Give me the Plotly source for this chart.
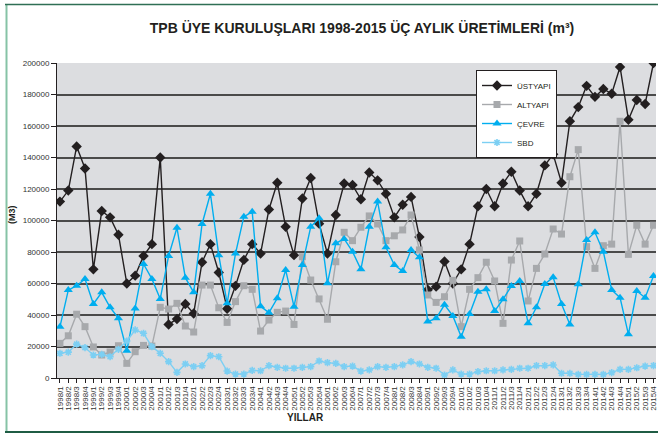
import plotly.graph_objects as go

years = list(range(1998, 2016))
quarters = [f"{y}/{q}" for y in years for q in range(1, 5)]

ustyapi = [112, 119, 147, 133, 69, 106, 102, 91, 60, 65,
           77.5, 85, 140, 34, 37.5, 47, 41, 73.5, 85, 67,
           44, 58.5, 75, 85, 79, 107, 124, 96, 78, 114,
           127, 98, 79, 103.5, 123.5, 122.5, 113.5, 130.5, 125.5, 117,
           102, 110, 115, 89.5, 56, 58, 74, 60, 69, 85,
           109, 120, 109, 123.5, 131, 119, 109, 117, 135, 142,
           124, 163, 172, 185.5, 178.5, 183.5, 180.5, 197.5, 164, 176.5, 174, 200]
altyapi = [22, 26.8, 40.5, 32.6, 19.7, 14.6, 16.5, 20.5, 9.3, 16.7,
           20.7, 20.3, 44.9, 43.8, 47.4, 33, 29.2, 59, 59, 44.6,
           35.3, 48.5, 58.6, 56.3, 29.8, 36.8, 41.7, 42.5, 34, 77,
           62.2, 50.2, 37.3, 73.8, 92.5, 87.2, 95.7, 102.9, 97.8, 87.2,
           90.3, 94, 103.5, 81.3, 52.7, 48, 51.6, 62, 32.6, 56.3,
           63.7, 73.5, 61.6, 34.7, 74.9, 87, 48.9, 69.6, 78.7, 94.6,
           91.4, 127.8, 145, 83.4, 69.6, 84, 85, 163, 78.5, 97, 85, 97]
cevre = [32.5, 55.8, 58.6, 62.9, 47, 54.4, 44.9, 37.9, 17.3, 44.2,
         72.4, 62.9, 50.2, 77.5, 95.4, 63.7, 54.4, 97.8, 117, 78,
         47.4, 79, 102.4, 105.5, 45.5, 41.5, 50.6, 68.6, 45.3, 71.7,
         96, 101.4, 60.1, 85.5, 88.3, 80.2, 69, 96, 112, 83,
         71.7, 67.9, 81.3, 76.6, 35.8, 37.9, 46.5, 39.4, 26.2, 40.6,
         54.8, 56.3, 42.5, 50, 58.4, 61.6, 34.7, 44.9, 59.7, 63.9,
         47, 34, 59.5, 87.6, 92.5, 80.2, 55.9, 51, 27.7, 55.2, 51, 64.8]
sbd = [15.7, 16.4, 21.5, 19.3, 14.6, 15, 13.5, 18.2, 23.5, 30.5,
       28.4, 19.9, 15.7, 10.4, 3.6, 8.9, 7.2, 7.8, 14.2, 13.5,
       4.4, 2.5, 2.5, 4.8, 4.6, 7.8, 6.8, 6.2, 6.2, 6.8,
       7.2, 10.8, 9.7, 9.3, 7.2, 7.6, 4.4, 5.1, 7.2, 6.8,
       7.2, 8.3, 10.4, 8.9, 6.8, 6.2, 1.9, 5.1, 2.5, 2.5,
       4, 4.6, 4.6, 5.1, 5.5, 6.2, 6.2, 7.8, 7.8, 8.3,
       3, 3, 2.3, 2.3, 2.3, 2.3, 3.4, 5.5, 5.5, 6.5, 7.6, 7.8]

series_names = ["ÜSTYAPI", "ALTYAPI", "ÇEVRE", "SBD"]
y_ticks = [0, 20000, 40000, 60000, 80000, 100000, 120000, 140000, 160000, 180000, 200000]

FONT = "Liberation Sans, Arial, sans-serif"

styles = [
    dict(color="#231f20", symbol="diamond", size=8, width=1.4, mline=0),
    dict(color="#a7a9ac", symbol="square", size=7, width=1.4, mline=0),
    dict(color="#00aeef", symbol="triangle-up", size=8, width=1.4, mline=0),
    dict(color="#7ccff3", symbol="asterisk-open", size=6, width=1.4, mline=1.6),
]
data = [ustyapi, altyapi, cevre, sbd]

fig = go.Figure()
for name, vals, st in zip(series_names, data, styles):
    fig.add_trace(go.Scatter(
        x=quarters, y=[v * 1000 for v in vals], name=name, mode="lines+markers",
        line=dict(color=st["color"], width=st["width"]),
        marker=dict(symbol=st["symbol"], size=st["size"], color=st["color"],
                    line=dict(color=st["color"], width=st["mline"])),
    ))

fig.update_layout(
    width=658, height=434,
    margin=dict(l=57, r=2, t=63, b=56),
    paper_bgcolor="white",
    plot_bgcolor="#dcdde0",
    title=dict(text="<b>TPB ÜYE KURULUŞLARI 1998-2015 ÜÇ AYLIK ÜRETİMLERİ (m³)</b>",
               x=362 / 658, xanchor="center", y=1 - 28 / 434, yanchor="middle",
               xref="container", yref="container",
               font=dict(family=FONT, size=14, color="#231f20")),
    showlegend=True,
    legend=dict(x=(476 - 57) / 599, y=(378 - 70) / 315, xanchor="left", yanchor="top",
                bgcolor="white", bordercolor="#231f20", borderwidth=1,
                font=dict(family=FONT, size=8, color="#231f20"),
                itemwidth=30, tracegroupgap=0),
)

fig.update_xaxes(
    type="category", categoryorder="array", categoryarray=quarters,
    tickmode="array", tickvals=quarters, ticktext=quarters,
    range=[-0.35, 71.3], tickangle=-90, automargin=False,
    tickfont=dict(family=FONT, size=8, color="#333333"),
    ticks="outside", ticklen=4, tickcolor="#231f20",
    showline=True, linecolor="#231f20", linewidth=1,
    showgrid=False, zeroline=False,
)
fig.update_yaxes(
    range=[0, 200000], tickmode="array", tickvals=y_ticks,
    ticktext=[str(v) for v in y_ticks], automargin=False,
    tickfont=dict(family=FONT, size=8, color="#333333"),
    ticks="outside", ticklen=5, tickcolor="#231f20",
    showline=True, linecolor="#231f20", linewidth=1,
    showgrid=True, gridcolor="#4a4a4a", gridwidth=1.5, zeroline=False,
)

fig.add_annotation(text="<b>YILLAR</b>", xref="paper", yref="paper",
                   x=(305 - 57) / 599, y=(378 - 417) / 315, xanchor="center", yanchor="middle",
                   showarrow=False, font=dict(family=FONT, size=10, color="#231f20"))
fig.add_annotation(text="<b>(M3)</b>", xref="paper", yref="paper",
                   x=(12 - 57) / 599, y=(378 - 215) / 315, xanchor="center", yanchor="middle",
                   textangle=-90, showarrow=False,
                   font=dict(family=FONT, size=9, color="#231f20"))

# decorative green frame
fx = lambda px: (px - 57) / 599
fy = lambda py: (378 - py) / 315
fig.add_shape(type="line", xref="paper", yref="paper", x0=fx(6.5), x1=fx(6.5), y0=fy(4), y1=fy(432),
              line=dict(color="#86c3a6", width=2))
fig.add_shape(type="line", xref="paper", yref="paper", x0=fx(5), x1=fx(660), y0=fy(4.5), y1=fy(4.5),
              line=dict(color="#2f6f55", width=1.5))
fig.add_shape(type="line", xref="paper", yref="paper", x0=fx(5), x1=fx(660), y0=fy(432), y1=fy(432),
              line=dict(color="#1f5c44", width=2))

fig.write_html("out.html", config={"displayModeBar": False},
               post_script="document.body.style.margin='0';document.body.style.overflow='hidden';")
